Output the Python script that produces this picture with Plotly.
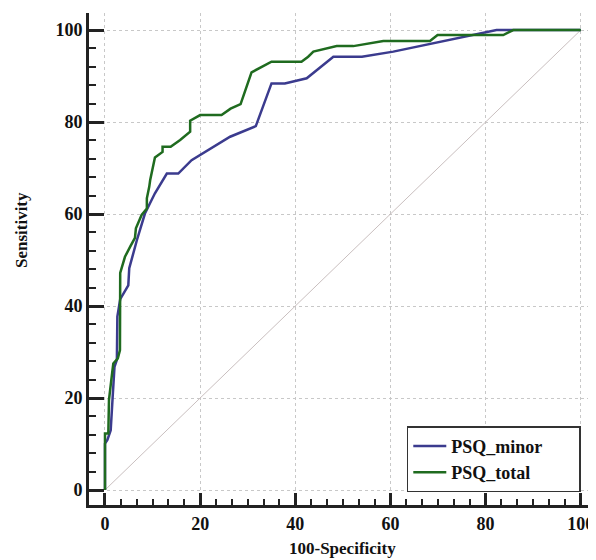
import plotly.graph_objects as go

# PSQ_minor ROC curve (100-Specificity, Sensitivity)
minor_x = [0, 0, 0.5, 1.2, 1.6, 2.0, 2.5, 2.6, 3.2, 4.9, 5.1, 6.7, 8.4, 10.5, 13.0, 15.4,
           18.2, 21.7, 26.3, 31.7, 35.0, 37.8, 42.4, 48.0, 54.0, 60.6, 69.0, 77.4, 82.3, 85.8, 100]
minor_y = [0, 10.1, 10.9, 13.0, 20.0, 26.8, 28.3, 37.7, 41.5, 44.5, 48.2, 54.3, 60.1, 64.5, 68.8, 68.8,
           71.7, 73.9, 76.8, 79.1, 88.4, 88.4, 89.5, 94.2, 94.2, 95.3, 97.1, 98.9, 100, 100, 100]

# PSQ_total ROC curve
total_x = [0, 0, 0.7, 0.84, 1.5, 1.75, 2.7, 3.15, 3.2, 4.2, 5.3, 6.3, 6.5, 7.7, 8.8, 8.8, 9.3, 9.5,
           10.5, 12.1, 12.1, 13.8, 15.8, 17.9, 17.9, 20.0, 24.5, 26.4, 28.5, 30.8, 35.0, 41.3, 42.7,
           43.8, 48.7, 52.2, 58.5, 68.3, 69.9, 83.7, 85.8, 100]
total_y = [0, 12.3, 12.3, 19.6, 25.4, 27.5, 28.6, 30.4, 47.2, 50.7, 52.9, 54.8, 56.9, 59.8, 61.2, 63.4, 65.9, 67.4,
           72.3, 73.5, 74.6, 74.6, 76.1, 77.9, 80.3, 81.5, 81.5, 82.9, 83.9, 90.8, 93.1, 93.1, 94.2,
           95.3, 96.5, 96.5, 97.6, 97.6, 98.9, 98.9, 100, 100]

diag_x = [0, 100]
diag_y = [0, 100]

tick_vals = [0, 20, 40, 60, 80, 100]
tick_text = ["0", "20", "40", "60", "80", "100"]

FONT = "Liberation Serif"
PAD = "\u00a0" * 7

fig = go.Figure()
fig.add_trace(go.Scatter(x=diag_x, y=diag_y, mode="lines", showlegend=False,
                         line=dict(color="#c9bfbf", width=1), hoverinfo="skip"))
fig.add_trace(go.Scatter(x=minor_x, y=minor_y, mode="lines", name="PSQ_minor" + PAD,
                         line=dict(color="#3b3b8e", width=2.5)))
fig.add_trace(go.Scatter(x=total_x, y=total_y, mode="lines", name="PSQ_total" + PAD,
                         line=dict(color="#1f6b1f", width=2.5)))

axis_common = dict(
    showline=True, linewidth=3, linecolor="#222", automargin=False,
    showgrid=True, gridcolor="#c8c8c8", griddash="dot", gridwidth=1,
    zeroline=False, ticks="inside", tickwidth=2.5, tickcolor="#222",
    tickvals=tick_vals, ticktext=tick_text,
    tickfont=dict(family=FONT, size=18, color="#111", weight="bold"),
)

fig.update_xaxes(**axis_common, range=[-3.36, 103.2], ticklen=12,
                 minor=dict(ticks="inside", ticklen=6, tickwidth=2, tickcolor="#222",
                            tick0=0, dtick=10 / 3, showgrid=False))
fig.update_yaxes(**axis_common, range=[-3.26, 103.7], ticklen=15,
                 minor=dict(ticks="inside", ticklen=7, tickwidth=2, tickcolor="#222",
                            tick0=0, dtick=4, showgrid=False))

fig.add_annotation(text="Sensitivity", xref="paper", yref="paper", x=-0.132, y=0.559,
                   textangle=-90, showarrow=False, xanchor="center", yanchor="middle",
                   font=dict(family=FONT, size=17, color="#111", weight="bold"))
fig.add_annotation(text="100-Specificity", xref="paper", yref="paper", x=0.5, y=-0.1118,
                   showarrow=False, xanchor="center", yanchor="bottom",
                   font=dict(family=FONT, size=17, color="#111", weight="bold"))

# the page body adds an 8px offset, so the figure is 8px smaller on each side
fig.update_layout(
    width=588, height=552,
    margin=dict(l=81, r=0, t=5, b=55, autoexpand=False),
    plot_bgcolor="white", paper_bgcolor="white",
    legend=dict(x=0.97, y=0.026, xanchor="right", yanchor="bottom",
                bgcolor="white", bordercolor="#333", borderwidth=1.5,
                font=dict(family=FONT, size=18, color="#111", weight="bold"),
                itemwidth=33, tracegroupgap=0),
)

fig.write_html("out.html")
